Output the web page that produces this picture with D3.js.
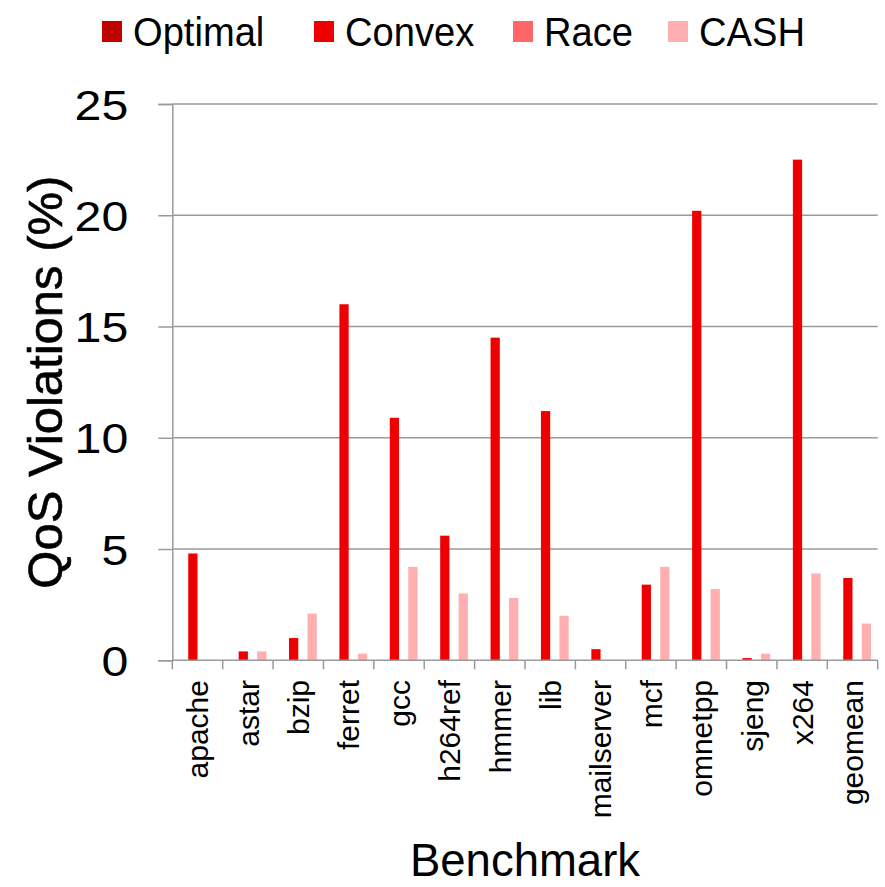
<!DOCTYPE html>
<html>
<head>
<meta charset="utf-8">
<script src="https://cdn.jsdelivr.net/npm/d3@7"></script>
<style>
  html, body { margin: 0; padding: 0; background: #fff; }
  svg { display: block; }
  text { font-family: "Liberation Sans", Arial, sans-serif; fill: #000; }
</style>
</head>
<body>
<svg id="chart" width="885" height="887"></svg>
<script>
const categories = ["apache","astar","bzip","ferret","gcc","h264ref","hmmer","lib","mailserver","mcf","omnetpp","sjeng","x264","geomean"];
const seriesNames = ["Optimal","Convex","Race","CASH"];
const optimalValues = [0,0,0,0,0,0,0,0,0,0,0,0,0,0];
const convexValues  = [4.8,0.4,1.0,16.0,10.9,5.6,14.5,11.2,0.5,3.4,20.2,0.1,22.5,3.7];
const raceValues    = [0,0,0,0,0,0,0,0,0,0,0,0,0,0];
const cashValues    = [0,0.4,2.1,0.3,4.2,3.0,2.8,2.0,0,4.2,3.2,0.3,3.9,1.65];
const yTicks = [0,5,10,15,20,25];
const colors = ["#C00000","#EE0000","#FF6666","#FFAFAF"];

const seriesValues = [optimalValues, convexValues, raceValues, cashValues];
const rows = categories.map((c, i) => ({cat: c, vals: seriesNames.map((s, j) => ({s, v: seriesValues[j][i]}))}));

const svg = d3.select("#chart");
const mLeft = 172.3, mRight = 877.7, mTop = 104, mBottom = 660.3;

const x0 = d3.scaleBand().domain(categories).range([mLeft, mRight]).paddingInner(0.266).paddingOuter(0.133);
const x1 = d3.scaleBand().domain(seriesNames).range([0, x0.bandwidth()]);
const y = d3.scaleLinear().domain([0, 25]).range([mBottom, mTop]);
const color = d3.scaleOrdinal().domain(seriesNames).range(colors);

// gridlines
svg.append("g").selectAll("line").data(yTicks.filter(d => d > 0)).join("line")
  .attr("x1", mLeft).attr("x2", mRight)
  .attr("y1", d => y(d)).attr("y2", d => y(d))
  .attr("stroke", "#9a9a9a").attr("stroke-width", 1.5);

// bars
const groups = svg.append("g").selectAll("g").data(rows).join("g")
  .attr("transform", d => `translate(${x0(d.cat)},0)`);
groups.selectAll("rect").data(d => d.vals.filter(e => e.v > 0)).join("rect")
  .attr("x", d => x1(d.s)).attr("width", x1.bandwidth())
  .attr("y", d => y(d.v)).attr("height", d => y(0) - y(d.v))
  .attr("fill", d => color(d.s));

// y axis
const yAxis = svg.append("g").attr("transform", `translate(${mLeft},0)`)
  .call(d3.axisLeft(y).tickValues(yTicks).tickSize(14).tickPadding(0).tickFormat(d3.format("d")));
yAxis.select(".domain").attr("stroke", "#9a9a9a").attr("stroke-width", 1.5);
yAxis.selectAll(".tick line").attr("stroke", "#9a9a9a").attr("stroke-width", 1.5);
yAxis.selectAll(".tick text").remove();
yAxis.selectAll(".tick").append("text")
  .attr("text-anchor", "end")
  .attr("transform", "translate(-44,0) scale(1.15,1)")
  .attr("dy", "0.36em")
  .style("font-size", "42px")
  .text(d => d);

// x axis baseline and ticks
const xg = svg.append("g");
xg.append("line").attr("x1", mLeft).attr("x2", mRight).attr("y1", mBottom).attr("y2", mBottom)
  .attr("stroke", "#9a9a9a").attr("stroke-width", 1.5);
const bounds = categories.map(c => x0(c) - x0.step() * x0.paddingOuter());
bounds.push(mRight);
xg.selectAll("line.tk").data(bounds).join("line").attr("class", "tk")
  .attr("x1", d => d).attr("x2", d => d).attr("y1", mBottom).attr("y2", mBottom + 9)
  .attr("stroke", "#9a9a9a").attr("stroke-width", 1.5);
xg.selectAll("text").data(categories).join("text")
  .attr("transform", c => `translate(${x0(c) + x0.bandwidth() / 2},680) rotate(-90)`)
  .attr("text-anchor", "end").attr("dy", "0.36em")
  .style("font-size", "30px")
  .text(c => c);

// axis titles
svg.append("text")
  .attr("transform", `translate(44,${(mTop + mBottom) / 2}) rotate(-90)`)
  .attr("text-anchor", "middle").attr("dy", "0.36em")
  .style("font-size", "49px")
  .attr("stroke", "#000").attr("stroke-width", 0.6)
  .text("QoS Violations (%)");
svg.append("text")
  .attr("x", 525).attr("y", 876)
  .attr("text-anchor", "middle")
  .style("font-size", "45.5px")
  .text("Benchmark");

// legend
const legendX = [102, 314, 513, 668];
const lg = svg.append("g").selectAll("g").data(seriesNames).join("g")
  .attr("transform", (d, i) => `translate(${legendX[i]},0)`);
lg.append("rect").attr("x", 0).attr("y", 21).attr("width", 20).attr("height", 21)
  .attr("fill", d => color(d));
lg.append("text").attr("transform", "translate(31,46) scale(0.93,1)")
  .style("font-size", "41px").text(d => d);
</script>
</body>
</html>
